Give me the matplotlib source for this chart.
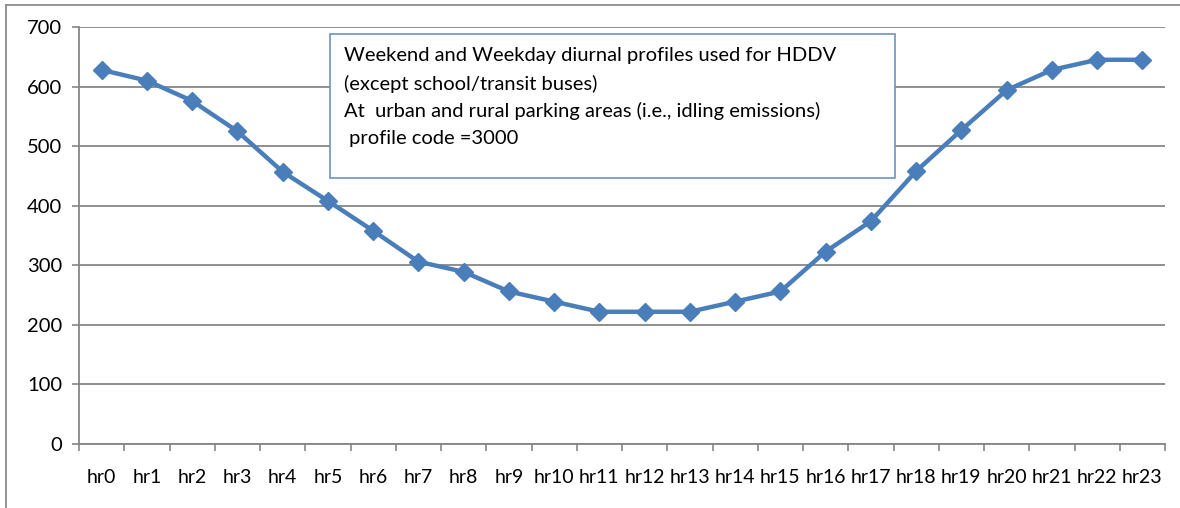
import matplotlib.pyplot as plt
from matplotlib.lines import Line2D

# === data ===
hours = [f"hr{i}" for i in range(24)]
values = [628, 610, 576, 525, 457, 408, 358, 306, 289, 256, 239, 222,
          222, 222, 239, 256, 323, 374, 458, 527, 594, 628, 645, 645]
yticks = [0, 100, 200, 300, 400, 500, 600, 700]
note_lines = [
    "Weekend and Weekday diurnal profiles used for HDDV",
    "(except school/transit buses)",
    "At  urban and rural parking areas (i.e., idling emissions)",
    " profile code =3000",
]

plt.rcParams['font.family'] = ['Lato', 'DejaVu Sans']
W, H = 1180, 508
fig = plt.figure(figsize=(W / 100, H / 100), dpi=100)
ax = fig.add_axes([79 / W, 1 - 444 / H, (1165 - 79) / W, (444 - 27) / H])

grid_c = '#868686'
blue = '#4A7EBB'

x = [i + 0.5 for i in range(len(values))]
ax.plot(x, values, color=blue, lw=3.2, marker='D', markersize=9,
        markerfacecolor=blue, markeredgecolor=blue, zorder=3)

ax.set_xlim(0, len(values))
ax.set_ylim(0, 700)
ax.set_yticks(yticks)
ax.yaxis.grid(True, color=grid_c, lw=1.3)
ax.set_axisbelow(True)

# category ticks on the boundaries, labels centred
ax.set_xticks(range(len(values) + 1))
ax.set_xticklabels([])
ax.set_xticks(x, minor=True)
ax.set_xticklabels(hours, minor=True, fontsize=14)
ax.tick_params(axis='x', which='major', length=5, color=grid_c, width=1.2)
ax.tick_params(axis='x', which='minor', length=0, pad=18)
ax.tick_params(axis='y', length=5, color=grid_c, width=1.2, labelsize=14.5, pad=7)

for s in ['top', 'right']:
    ax.spines[s].set_visible(False)
for s in ['left', 'bottom']:
    ax.spines[s].set_color(grid_c)
    ax.spines[s].set_linewidth(1.3)

# note box
bx0, by0, bx1, by1 = 330, 34, 895, 178
fig.patches.append(plt.Rectangle((bx0 / W, 1 - by1 / H), (bx1 - bx0) / W, (by1 - by0) / H,
                                 transform=fig.transFigure, facecolor='white',
                                 edgecolor='#6D93C8', lw=1.2, zorder=5))
for i, line in enumerate(note_lines):
    fig.text(344 / W, 1 - (56 + i * 27.5) / H, line, fontsize=14.5, va='center',
             ha='left', color='black', zorder=6)

# outer chart frame (cut off at right and bottom)
fig.add_artist(Line2D([6 / W, 1], [1 - 5 / H, 1 - 5 / H], transform=fig.transFigure,
                      color='#8c8c8c', lw=1.3))
fig.add_artist(Line2D([6 / W, 6 / W], [0, 1 - 5 / H], transform=fig.transFigure,
                      color='#8c8c8c', lw=1.3))

plt.savefig('out.png', dpi=100)
